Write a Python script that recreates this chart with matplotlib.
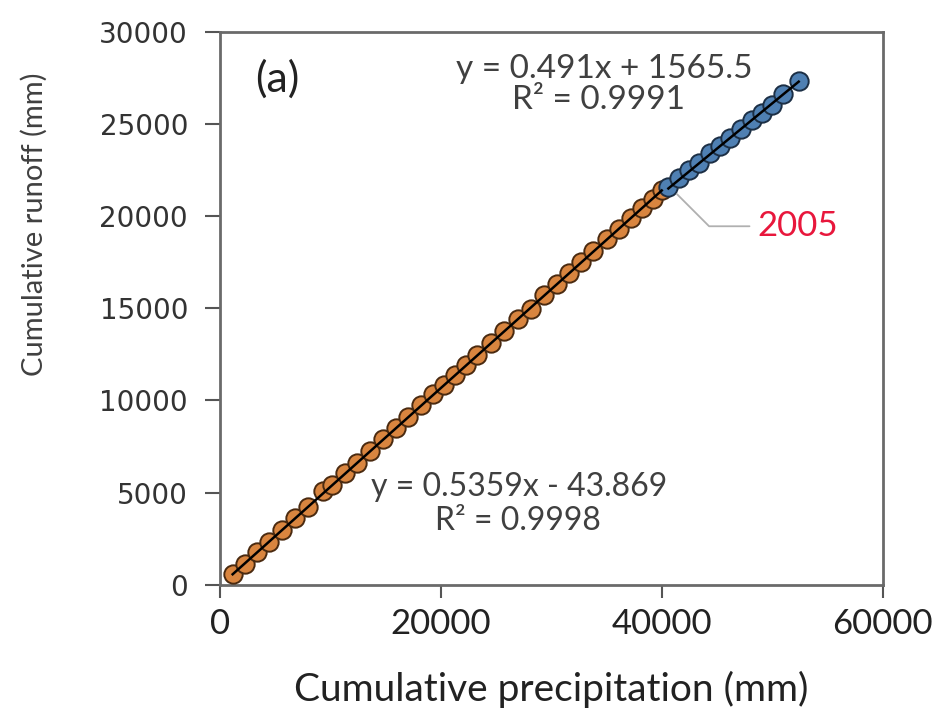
import numpy as np
import matplotlib
matplotlib.use("Agg")
import matplotlib.pyplot as plt

# cumulative precipitation / runoff (mm)
precip_before = [1150, 2250, 3350, 4450, 5600, 6800, 7950, 9300, 10100, 11300,
                 12400, 13600, 14800, 15900, 17000, 18200, 19300, 20300, 21300, 22300,
                 23300, 24500, 25700, 27000, 28200, 29300, 30500, 31600, 32700, 33800,
                 35000, 36100, 37200, 38200, 39200, 40000]
runoff_before = [580, 1150, 1760, 2330, 2960, 3600, 4230, 5100, 5400, 6050,
                 6600, 7250, 7900, 8480, 9080, 9760, 10330, 10850, 11380, 11920,
                 12450, 13100, 13750, 14400, 14950, 15700, 16300, 16900, 17500, 18100,
                 18750, 19300, 19900, 20450, 20950, 21400]

precip_after = [40600, 41600, 42500, 43400, 44400, 45300, 46200, 47200, 48200,
                49100, 50000, 51000, 52400]
runoff_after = [21600, 22050, 22500, 22900, 23400, 23800, 24250, 24700, 25200,
                25600, 26050, 26600, 27350]

fit_before = (0.5359, -43.869, 0.9998)
fit_after = (0.491, 1565.5, 0.9991)

xticks = [0, 20000, 40000, 60000]
yticks = [0, 5000, 10000, 15000, 20000, 25000, 30000]

txt_font = ['Lato', 'DejaVu Sans']
grey = '#404040'

fig = plt.figure(figsize=(9.36, 7.22), dpi=100)
ax = fig.add_axes([0.235, 0.19, 0.708, 0.766])

ax.scatter(precip_before, runoff_before, s=175, c='#d9853f', edgecolors='#4a2a10',
           linewidths=1.4, zorder=3)
ax.scatter(precip_after, runoff_after, s=175, c='#4f80b3', edgecolors='#1c2f45',
           linewidths=1.4, zorder=3)

xb = np.array([precip_before[0], precip_before[-1]])
ax.plot(xb, fit_before[0] * xb + fit_before[1], color='black', lw=1.8, zorder=4)
xa = np.array([precip_after[0], precip_after[-1]])
ax.plot(xa, fit_after[0] * xa + fit_after[1], color='black', lw=1.8, zorder=4)

ax.set_xlim(0, 60000)
ax.set_ylim(0, 30000)
ax.set_xticks(xticks)
ax.set_yticks(yticks)
ax.set_xticklabels([str(v) for v in xticks], family=txt_font, fontsize=25, color='#222222')
ax.set_yticklabels([str(v) for v in yticks], family='DejaVu Sans', fontsize=20, color='#333333')
ax.tick_params(axis='x', length=9, width=1.5, color='#555555', pad=8, direction='out')
ax.tick_params(axis='y', length=11, width=1.5, color='#555555', pad=12, direction='out')
for sp in ax.spines.values():
    sp.set_color('#6a6a6a')
    sp.set_linewidth(2)

ax.set_xlabel('Cumulative precipitation (mm)', family=txt_font, fontsize=28,
              color='#222222', labelpad=22)
fig.text(0.037, 0.69, 'Cumulative runoff (mm)', rotation=90, ha='center', va='center',
         family=txt_font, fontsize=21, color=grey)

ax.text(0.053, 0.915, '(a)', transform=ax.transAxes, family=txt_font, fontsize=31,
        color='#222222', va='center')
ax.text(34800, 28000, 'y = %.3fx + %.1f' % (fit_after[0], fit_after[1]),
        family=txt_font, fontsize=24, color=grey, ha='center', va='center')
ax.text(34300, 26300, 'R² = %.4f' % fit_after[2], family=txt_font, fontsize=24,
        color=grey, ha='center', va='center')
ax.text(27100, 5300, 'y = %.4fx - %.3f' % (fit_before[0], -fit_before[1]),
        family=txt_font, fontsize=23, color=grey, ha='center', va='center')
ax.text(27000, 3450, 'R² = %.4f' % fit_before[2], family=txt_font, fontsize=23,
        color=grey, ha='center', va='center')

ax.annotate('2005', xy=(41200, 21300), xytext=(48700, 19450),
            family=txt_font, fontsize=25, color='#e8173c', va='center',
            arrowprops=dict(arrowstyle='-', color='#b0b0b0', lw=1.3,
                            connectionstyle='angle,angleA=0,angleB=-45,rad=0',
                            shrinkA=4, shrinkB=2))

fig.savefig('out.png', dpi=100)
